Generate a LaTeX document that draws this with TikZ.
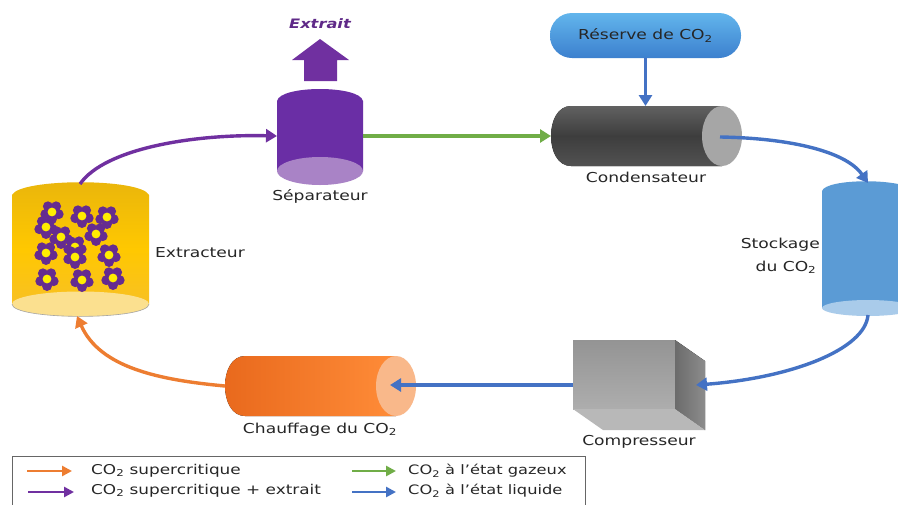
\documentclass[tikz,border=0pt]{standalone}
\usepackage{fontspec}
\setmainfont[FakeStretch=1.25]{DejaVu Sans}
\usetikzlibrary{arrows.meta}
\definecolor{cblue}{HTML}{4472C4}
\definecolor{cgreen}{HTML}{70AD47}
\definecolor{corange}{HTML}{ED7D31}
\definecolor{cpurple}{HTML}{7030A0}
\definecolor{ctext}{HTML}{262626}
\definecolor{yeltop}{HTML}{E9B50C}
\definecolor{yelmid}{HTML}{FFC800}
\definecolor{yelbot}{HTML}{F6BE2E}
\definecolor{yelell}{HTML}{FBE08F}
\definecolor{stoblue}{HTML}{5B9BD5}
\definecolor{stoell}{HTML}{A9CBEA}
\definecolor{restop}{HTML}{62B5EC}
\definecolor{resbot}{HTML}{3C80CE}
\definecolor{heaell}{HTML}{F9B88A}
\definecolor{heal}{HTML}{E8681C}
\definecolor{hear}{HTML}{FF8C38}
\tikzset{
  flow/.style={line width=3.4pt,-{Triangle[length=11pt,width=13pt]}},
  legflow/.style={line width=2.8pt,-{Triangle[length=10pt,width=10pt]}},
  lab/.style={text=ctext,font=\fontsize{13.7pt}{16pt}\selectfont,inner sep=0pt,align=center},
  leglab/.style={lab,anchor=west,font=\fontsize{13.5pt}{16pt}\selectfont},
  leglabr/.style={lab,anchor=west,font=\fontsize{13pt}{16pt}\selectfont},
  anchorbox/.style={inner sep=0pt,outer sep=0pt,rectangle},
  petal/.style={fill=cpurple!90!black}
}
\newcommand{\flower}[2]{%
  \begin{scope}[shift={(#1,#2)}]
    \foreach \a in {90,162,234,306,378}{\fill[petal] (\a:7) circle (5);}
    \fill[petal] (0,0) circle (6);
    \fill[yellow!95!orange] (0,0) circle (4.4);
  \end{scope}}
\begin{document}
\begin{tikzpicture}[x=1pt,y=-1pt]
\useasboundingbox (0,0) rectangle (898,504);
\clip (0,0) rectangle (898,504);
\fill[white] (0,0) rectangle (898,504);

% anchor nodes
\node[anchorbox,minimum width=137pt,minimum height=131pt] (ext) at (80.5,250.5) {};
\node[anchorbox,minimum width=86pt,minimum height=96pt] (sep) at (320,136) {};
\node[anchorbox,minimum width=191pt,minimum height=60pt] (con) at (646.5,136) {};
\node[anchorbox,minimum width=92pt,minimum height=133pt] (sto) at (868,249.5) {};
\node[anchorbox,minimum width=132pt,minimum height=90pt] (com) at (639,385) {};
\node[anchorbox,minimum width=191pt,minimum height=60pt] (hea) at (320.5,386) {};
\coordinate (conout) at (720,137);
\coordinate (comin) at (696,385);
\coordinate (heain) at (390,385);
\coordinate (extin) at (77,316);
\coordinate (extout) at (80,184);
\coordinate (stoin) at (868,183);
\coordinate (stoout) at (868,315);

% Extractor
\path[top color=yeltop,bottom color=yelbot,middle color=yelmid] (12,195) .. controls (20,178) and (141,178) .. (149,195) -- (149,304) .. controls (149,320) and (12,320) .. (12,304) -- cycle;
\fill[yelell] (80.5,304) ellipse (68.5 and 12.5);
\draw[gray!70,line width=.6pt] (12,304) .. controls (12,320.5) and (149,320.5) .. (149,304);
\flower{52}{212}\flower{82}{216}\flower{107}{217}\flower{46}{227}
\flower{61}{237}\flower{96}{234}\flower{75}{247}\flower{75}{257}
\flower{46}{253}\flower{109}{255}\flower{47}{279}\flower{82}{280}\flower{113}{278}
\node[lab] (lext) at (200,252.5) {Extracteur};

% Separator
\fill[cpurple!95!blue] (277,101) .. controls (280,85) and (360,85) .. (363,101) -- (363,171) -- (277,171) -- cycle;
\fill[cpurple!60!white] (320,171) ellipse (43 and 14);
\node[lab] (lsep) at (320,196) {Séparateur};
\fill[cpurple] (320,39) -- (349,60) -- (337,60) -- (337,81) -- (304,81) -- (304,60) -- (292,60) -- cycle;
\node[text=cpurple!85!black,font=\fontsize{13pt}{16pt}\selectfont\bfseries\itshape,inner sep=0pt] (lext2) at (320,24) {Extrait};

% Reserve
\node[anchorbox,rounded corners=22pt,minimum width=191pt,minimum height=45pt,top color=restop,bottom color=resbot,text=ctext,font=\fontsize{13.7pt}{16pt}\selectfont] (res) at (645.5,35.5) {Réserve de CO\textsubscript{2}};

% Condenser
\fill[top color=black!62,bottom color=black!68,middle color=black!76] (722,106) -- (571,106) .. controls (544.3,106) and (544.3,166) .. (571,166) -- (722,166) -- cycle;
\fill[gray!70] (722,136) ellipse (20 and 30);
\node[lab] (lcon) at (646,177) {Condensateur};

% Storage
\fill[stoblue] (822,191) .. controls (826,178) and (905,178) .. (914,191) -- (914,308) -- (822,308) -- cycle;
\fill[stoell] (868,308) ellipse (46 and 8);
\node[lab,anchor=east] (lsto) at (820,245) {Stockage};
\node[lab] (lsto2) at (786,267) {du CO\textsubscript{2}};

% Compressor
\fill[top color=black!42,bottom color=black!32] (573,340) rectangle (675,409);
\fill[left color=black!58,right color=black!45] (675,340) -- (705,361) -- (705,430) -- (675,409) -- cycle;
\fill[black!28] (573,409) -- (675,409) -- (705,430) -- (603,430) -- cycle;
\node[lab] (lcom) at (639,442) {Compresseur};

% Heater
\fill[left color=heal,right color=hear] (396,356) -- (245,356) .. controls (218.3,356) and (218.3,416) .. (245,416) -- (396,416) -- cycle;
\fill[heaell] (396,386) ellipse (20 and 30);
\node[lab] (lhea) at (320,430) {Chauffage du CO\textsubscript{2}};

% Connectors
\draw[flow,cblue] (res) -- (con.north-|res);
\draw[flow,cgreen] (sep.east) -- (con.west);
\draw[flow,cpurple] (extout) .. controls (105,148) and (195,134) .. (sep.west);
\draw[flow,cblue] (conout) .. controls (785,138) and (845,150) .. (stoin);
\draw[flow,cblue] (stoout) .. controls (865,350) and (790,378) .. (comin);
\draw[flow,cblue] (com.west) -- (heain);
\draw[flow,corange] (hea.west) .. controls (160,380) and (100,368) .. (extin);

% Legend
\node[anchorbox,draw=black!60,line width=1pt,minimum width=573pt,minimum height=62pt,anchor=north west] (leg) at (12,456) {};
\coordinate (a1) at (27,471);\coordinate (a1e) at (72,471);
\coordinate (a2) at (28,492);\coordinate (a2e) at (74,492);
\coordinate (a3) at (352,471);\coordinate (a3e) at (396,471);
\coordinate (a4) at (352,492);\coordinate (a4e) at (396,492);
\draw[legflow,corange] (a1) -- (a1e);
\draw[legflow,cpurple] (a2) -- (a2e);
\draw[legflow,cgreen] (a3) -- (a3e);
\draw[legflow,cblue] (a4) -- (a4e);
\node[leglab] (t1) at (91,471) {CO\textsubscript{2} supercritique};
\node[leglab] (t2) at (91,491) {CO\textsubscript{2} supercritique + extrait};
\node[leglabr] (t3) at (408,471) {CO\textsubscript{2} à l’état gazeux};
\node[leglabr] (t4) at (408,491) {CO\textsubscript{2} à l’état liquide};
\end{tikzpicture}
\end{document}
